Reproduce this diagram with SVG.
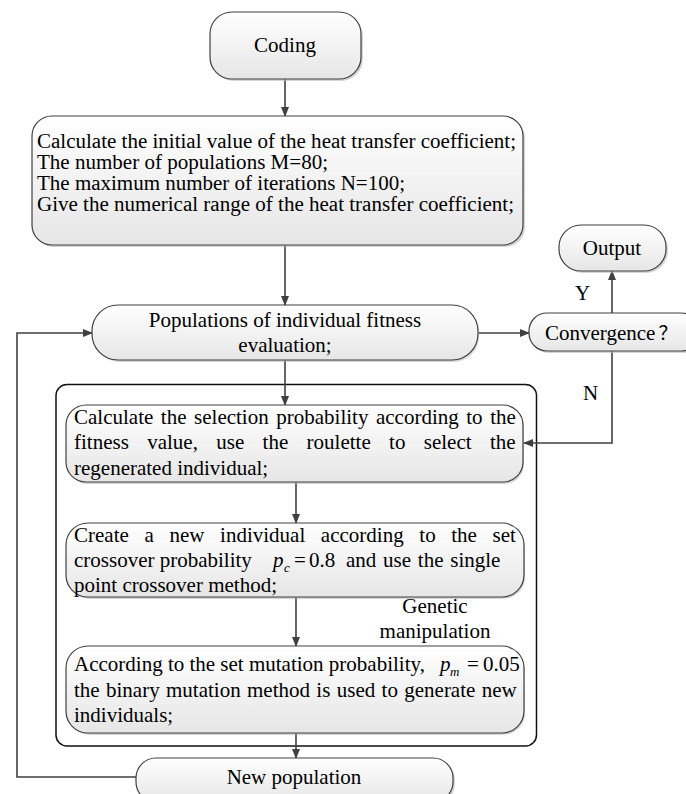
<svg xmlns="http://www.w3.org/2000/svg" width="686" height="794" viewBox="0 0 686 794">
<defs>
<linearGradient id="g" x1="0" y1="0" x2="0" y2="1">
<stop offset="0" stop-color="#ffffff"/>
<stop offset="1" stop-color="#e6e6e6"/>
</linearGradient>
<marker id="ah" markerWidth="10" markerHeight="10" refX="9" refY="5" orient="auto" markerUnits="userSpaceOnUse">
<path d="M0,1 L10,5 L0,9 Z" fill="#404040"/>
</marker>
</defs>
<style>
.box{fill:url(#g);stroke:#404040;stroke-width:1.2}
.sh{fill:#b8b8b8;opacity:0.6}
.t{font-family:"Liberation Serif","Times New Roman",serif;font-size:21px;fill:#000}
.s{font-size:20px}
.c{text-anchor:middle}
.it{font-style:italic}
.sub{font-style:italic;font-size:13px}
.ln{fill:none;stroke:#404040;stroke-width:1.6;marker-end:url(#ah)}
</style>
<rect width="686" height="794" fill="#fff"/>

<g id="container">
<rect x="56" y="384.5" width="480.5" height="361.5" rx="11" fill="none" stroke="#111" stroke-width="1.5"/>
</g>

<g id="connectors">
<line class="ln" x1="285" y1="79" x2="285" y2="116"/>
<line class="ln" x1="285" y1="245" x2="285" y2="305"/>
<line class="ln" x1="479" y1="333" x2="529" y2="333"/>
<line class="ln" x1="612" y1="313" x2="612" y2="271"/>
<polyline class="ln" points="612,351 612,443 524,443"/>
<line class="ln" x1="285" y1="360" x2="285" y2="405"/>
<line class="ln" x1="296" y1="482" x2="296" y2="523"/>
<line class="ln" x1="296" y1="597" x2="296" y2="646"/>
<line class="ln" x1="296" y1="733" x2="296" y2="758"/>
<polyline class="ln" points="136,777 17,777 17,333 92,333"/>
</g>

<g id="coding">
<rect class="sh" x="212" y="14" width="151" height="67" rx="22"/>
<rect class="box" x="210" y="12" width="151" height="67" rx="22"/>
<text class="t c" x="285" y="52">Coding</text>
</g>

<g id="init">
<rect class="sh" x="34" y="118" width="491" height="129" rx="20"/>
<rect class="box" x="32" y="116" width="491" height="129" rx="20"/>
<text class="t s" x="37" y="148" textLength="479" lengthAdjust="spacingAndGlyphs">Calculate the initial value of the heat transfer coefficient;</text>
<text class="t s" x="37" y="169" textLength="291" lengthAdjust="spacingAndGlyphs">The number of populations M=80;</text>
<text class="t s" x="37" y="190" textLength="368" lengthAdjust="spacingAndGlyphs">The maximum number of iterations N=100;</text>
<text class="t s" x="37" y="211" textLength="477" lengthAdjust="spacingAndGlyphs">Give the numerical range of the heat transfer coefficient;</text>
</g>

<g id="populations">
<rect class="sh" x="94" y="307" width="385" height="55" rx="26"/>
<rect class="box" x="92" y="305" width="386" height="55" rx="26"/>
<text class="t c" x="285" y="327">Populations of individual fitness</text>
<text class="t c" x="285" y="352">evaluation;</text>
</g>

<g id="convergence">
<rect class="sh" x="531" y="315" width="170" height="38" rx="18"/>
<rect class="box" x="529" y="313" width="170" height="38" rx="18"/>
<text class="t" x="545" y="340">Convergence<tspan dx="3" font-family="'Noto Sans CJK SC',sans-serif" font-size="19">？</tspan></text>
</g>

<g id="output">
<rect class="sh" x="561" y="227" width="107" height="46" rx="22"/>
<rect class="box" x="559" y="225" width="107" height="46" rx="22"/>
<text class="t c" x="612" y="255">Output</text>
</g>

<g id="labels">
<text class="t" x="575" y="300">Y</text>
<text class="t" x="583" y="400">N</text>
<text class="t c" x="435" y="613">Genetic</text>
<text class="t c" x="435" y="638">manipulation</text>
</g>

<g id="selection">
<rect class="sh" x="68" y="407" width="456" height="77" rx="20"/>
<rect class="box" x="66" y="405" width="457" height="77" rx="20"/>
<text class="t" x="74" y="424" word-spacing="2.3">Calculate the selection probability according to the</text>
<text class="t" x="74" y="449" word-spacing="13.1">fitness value, use the roulette to select the</text>
<text class="t" x="74" y="475">regenerated individual;</text>
</g>

<g id="crossover">
<rect class="sh" x="68" y="525" width="457" height="74" rx="22"/>
<rect class="box" x="66" y="523" width="458" height="74" rx="22"/>
<text class="t" x="74" y="542" word-spacing="10.4">Create a new individual according to the set</text>
<text class="t" x="74" y="567">crossover probability</text>
<text class="t it" x="273" y="567">p</text>
<text class="t sub" x="284" y="572">c</text>
<text class="t" x="294" y="567">=</text>
<text class="t" x="309" y="567">0.8</text>
<text class="t" x="346" y="567" word-spacing="1.5">and use the single</text>
<text class="t" x="74" y="592">point crossover method;</text>
</g>

<g id="mutation">
<rect class="sh" x="68" y="648" width="457" height="87" rx="22"/>
<rect class="box" x="66" y="646" width="458" height="87" rx="22"/>
<text class="t" x="74" y="671">According to the set mutation probability,</text>
<text class="t it" x="440" y="671">p</text>
<text class="t sub" x="450" y="676">m</text>
<text class="t" x="467" y="671">=</text>
<text class="t" x="483" y="671">0.05</text>
<text class="t" x="74" y="697" word-spacing="1.1">the binary mutation method is used to generate new</text>
<text class="t" x="74" y="722">individuals;</text>
</g>

<g id="newpop">
<rect class="sh" x="138" y="760" width="317" height="44" rx="20"/>
<rect class="box" x="136" y="758" width="317" height="44" rx="20"/>
<text class="t c" x="294" y="784">New population</text>
</g>
</svg>
